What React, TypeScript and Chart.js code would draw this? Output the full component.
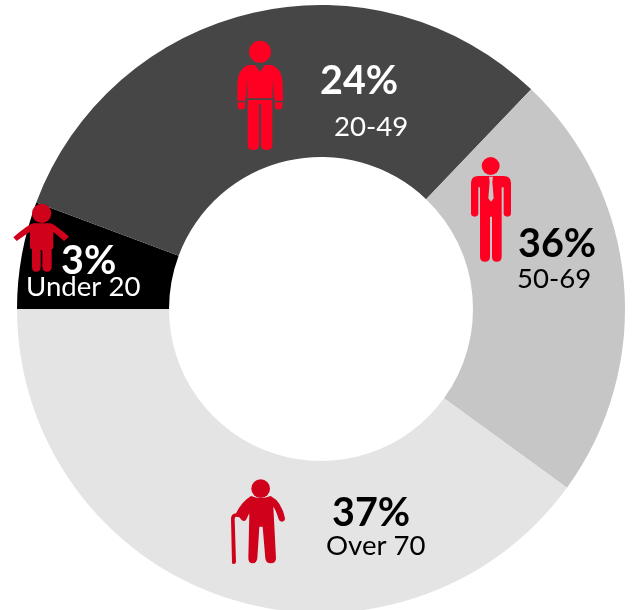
import React, { useEffect, useRef } from "react";
import { Chart, registerables } from "chart.js";

Chart.register(...registerables);

const categories = ["Under 20", "20-49", "50-69", "Over 70"];
const percentLabels = ["3%", "24%", "36%", "37%"];
// Slice sizes as drawn in the picture (in share of the full ring)
const drawnShares = [5.7, 31.45, 22.85, 40.0];
const sliceColors = ["#000000", "#464646", "#c6c6c6", "#e4e4e4"];
const textColors = ["#ffffff", "#ffffff", "#000000", "#000000"];

const percentPos = [[61, 274], [320, 94], [518, 257], [332, 526]];
const namePos = [[26, 296], [334, 136], [517, 288], [326, 555]];

type Icon = { ox: number; oy: number; color: string; circle: number[]; paths: string[]; extra?: { d: string; color: string } };

const icons: Icon[] = [
  {
    ox: 0, oy: 190, color: "#d0021b", circle: [125, 70, 29],
    paths: ["M100,100 L150,100 Q160,100 207,140 L192,153 L160,125 L160,175 L155,178 L155,230 Q155,245 140,245 Q128,245 127,230 L127,180 L122,180 L122,230 Q122,245 108,245 Q96,245 96,230 L96,178 L90,175 L90,125 L50,153 L40,142 Q85,103 100,100 Z"],
  },
  {
    ox: 220, oy: 30, color: "#ff0022", circle: [120, 65, 33],
    paths: [
      "M85,105 L105,105 L120,125 L135,105 L155,105 Q185,115 188,160 L189,212 L164,212 L158,150 L158,205 L82,205 L82,150 L76,212 L52,212 L52,160 Q55,115 85,105 Z",
      "M53,217 L75,217 L75,230 Q75,238 64,238 Q53,238 53,230 Z",
      "M165,217 L187,217 L187,230 Q187,238 176,238 Q165,238 165,230 Z",
      "M83,210 L157,210 L157,345 Q157,360 140,360 Q123,360 123,345 L123,222 L117,222 L117,345 Q117,360 100,360 Q83,360 83,345 Z",
    ],
  },
  {
    ox: 460, oy: 150, color: "#ff0022", circle: [92, 48, 27],
    paths: ["M55,78 L131,78 Q153,78 153,100 L153,190 Q153,200 142,200 Q131,200 131,190 L131,112 L125,112 L125,320 Q125,335 110,335 Q96,335 96,320 L96,200 L90,200 L90,320 Q90,335 75,335 Q60,335 60,320 L60,112 L55,112 L55,190 Q55,200 44,200 Q33,200 33,190 L33,100 Q33,78 55,78 Z"],
    extra: { d: "M87,80 L99,80 L97,95 L101,145 L93,155 L85,145 L89,95 Z", color: "#c6c6c6" },
  },
  {
    ox: 220, oy: 470, color: "#d0021b", circle: [122, 56, 28],
    paths: [
      "M93,78 Q122,90 152,78 Q185,95 195,145 Q195,155 185,155 Q178,155 175,145 Q168,120 160,110 L168,265 Q168,280 152,280 Q137,280 136,265 L128,170 L118,170 L112,265 Q110,280 98,280 Q85,280 85,265 L88,130 L78,150 Q72,156 65,150 L48,130 Q65,95 93,78 Z",
      "M36,280 L33,145 Q34,132 48,130 L60,134 L58,142 L48,140 Q44,141 44,148 L48,276 Q47,282 42,282 Q37,282 36,280 Z",
    ],
  },
];

const overlayPlugin = {
  id: "overlay",
  afterDatasetsDraw(chart: Chart) {
    const ctx = chart.ctx;
    ctx.save();
    icons.forEach((ic) => {
      ctx.save();
      ctx.translate(ic.ox, ic.oy);
      ctx.scale(1 / 3, 1 / 3);
      ctx.fillStyle = ic.color;
      ctx.beginPath();
      ctx.arc(ic.circle[0], ic.circle[1], ic.circle[2], 0, Math.PI * 2);
      ctx.fill();
      ic.paths.forEach((d) => ctx.fill(new Path2D(d)));
      if (ic.extra) {
        ctx.fillStyle = ic.extra.color;
        ctx.fill(new Path2D(ic.extra.d));
      }
      ctx.restore();
    });
    ctx.textAlign = "left";
    ctx.textBaseline = "alphabetic";
    categories.forEach((name, i) => {
      ctx.fillStyle = textColors[i];
      ctx.font = "bold 39.5px Lato";
      ctx.fillText(percentLabels[i], percentPos[i][0], percentPos[i][1]);
      ctx.font = "27.6px Lato";
      ctx.fillText(name, namePos[i][0], namePos[i][1]);
    });
    ctx.restore();
  },
};

export default function App() {
  const ref = useRef<HTMLCanvasElement>(null);
  useEffect(() => {
    const chart = new Chart(ref.current!, {
      type: "doughnut",
      data: {
        labels: categories,
        datasets: [
          {
            data: drawnShares,
            backgroundColor: sliceColors,
            borderWidth: 0,
          },
        ],
      },
      options: {
        responsive: false,
        animation: false,
        cutout: "50%",
        rotation: -90,
        layout: { padding: 5 },
        plugins: { legend: { display: false }, tooltip: { enabled: false }, title: { display: false } },
      },
      plugins: [overlayPlugin],
    });
    return () => chart.destroy();
  }, []);
  return (
    <div style={{ position: "fixed", left: 0, top: 0, width: 633, height: 610, overflow: "hidden", background: "#fff" }}>
      <canvas ref={ref} width={642} height={618} style={{ display: "block", width: 642, height: 618 }} />
    </div>
  );
}
